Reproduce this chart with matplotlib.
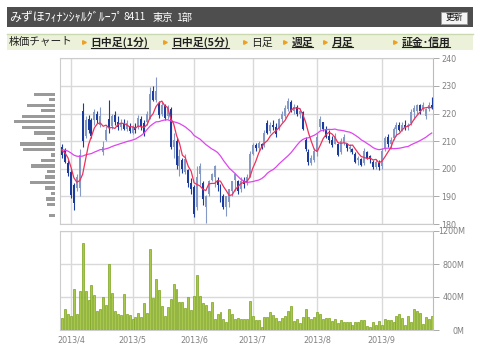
import numpy as np
import pandas as pd
import matplotlib
matplotlib.use('Agg')
import matplotlib.pyplot as plt
from matplotlib.patches import Rectangle

plt.rcParams['font.family'] = ['Noto Sans CJK JP', 'DejaVu Sans']

# ---------------- data ----------------
title_parts = ['みずほﾌｨﾅﾝｼｬﾙｸﾞﾙｰﾌﾟ', '8411', '東京', '1部']
button_text = '更新'
menu_label = '株価チャート'
menu_items = ['日中足(1分)', '日中足(5分)', '日足', '週足', '月足', '証金･信用']
menu_links = [True, True, False, True, True, True]

holidays = ['2013-04-29', '2013-05-03', '2013-05-06', '2013-07-15', '2013-09-16', '2013-09-23']
start_date, end_date = '2013-03-27', '2013-09-27'

opens = [208, 206.8, 202, 199, 194, 193, 193, 221, 212, 218, 217.5, 217.5, 220, 216, 206, 210.5,
         218, 215.5, 219.5, 217, 215, 216.5, 214.5, 215.5, 213, 215, 215, 218, 216.5, 217, 218.5,
         228, 225, 223.5, 220, 223, 219, 221.5, 208, 210, 201, 203, 199, 199.5, 195, 193.5, 186,
         198, 195, 186, 191, 196, 197, 196, 194, 190, 186, 188, 192, 196, 195.5, 192.5, 195.5,
         195, 197, 205.5, 208.5, 207.5, 209, 208.5, 216.5, 213.5, 216, 215, 214.5, 218, 219,
         221.5, 224, 221, 222.5, 220, 220.5, 210.5, 206, 202, 203, 206, 215, 217, 214.5, 212,
         210.5, 209, 209, 206, 209.5, 209, 207, 207, 205.5, 203, 203.5, 202, 206, 204.5, 202.5,
         200.5, 202, 201, 207, 211.5, 209, 211, 214.5, 216, 214, 216, 215, 216.5, 220.5, 221,
         223, 221.5, 219, 221.5, 223]
highs = [209, 207.5, 203, 200, 195, 198, 207, 223.7, 219, 219.5, 218.5, 221.5, 221, 222.5, 210,
         215.5, 225, 220, 221, 219, 218, 218, 217.5, 216.5, 216, 216.5, 219.5, 219, 217.5, 221,
         229.7, 230, 233.3, 224.5, 224, 223.5, 223, 222.5, 213, 211, 207, 204, 205.5, 200, 196.5,
         194, 201, 202, 195.5, 190.5, 196, 198.5, 201.5, 197, 194.5, 191, 190, 192.5, 195.5,
         198.5, 196, 197, 197, 198, 206.5, 209.5, 209.5, 210, 209.5, 214, 217.5, 217, 217.5,
         216.5, 218.5, 221, 223, 225.5, 225, 223.5, 223, 222, 221, 211.5, 207, 205, 207.5, 213,
         219, 217, 215.5, 214, 212, 213, 209.5, 211, 212.5, 209.5, 209, 207.5, 206, 204.5, 204,
         207.5, 206.5, 205, 203, 203.5, 203, 207.5, 212, 212.5, 211.5, 215, 217, 217, 217, 217.5,
         216.5, 221.5, 223, 223.5, 223.5, 224, 222, 224, 226]
lows = [204, 202, 197.5, 189.5, 185, 192, 190, 208, 211, 213, 211, 216, 216.5, 215, 205, 210,
        213, 214.5, 216, 214, 214, 214, 213.5, 213, 212.5, 213, 214.5, 214, 212, 216, 218, 224.5,
        224, 218.5, 219, 217.5, 218, 207, 204, 200, 197.5, 198.5, 198, 193.5, 191, 182.6, 185,
        194, 187, 180.5, 190, 195.5, 193.5, 192, 188, 185.5, 183, 186, 190, 192, 191, 191.5,
        193, 194, 197, 205, 206.5, 206.5, 207, 208, 212.5, 213, 214, 211.5, 214, 217, 218.5,
        221, 220.5, 220, 219, 218.5, 214, 206.5, 201.5, 201.5, 202.5, 204.5, 214, 213.5, 211,
        209.5, 208, 209, 204.5, 205.5, 208.5, 206.5, 206, 205.5, 202, 201.5, 201, 201.5, 203.5,
        202, 200, 200, 199.5, 200, 206.5, 208, 207, 210.5, 212, 213.5, 213.5, 214, 214, 216, 218,
        220, 220, 221, 218, 221, 221.5]
closes = [205, 202.5, 198.3, 190.5, 187.5, 197, 205, 210, 217.5, 214, 212, 220.5, 217.5, 219,
          208, 214, 215, 219, 217, 215, 216.5, 214.5, 216.5, 213.5, 215, 214, 218.5, 215, 212.5,
          220, 227, 225, 228, 219.5, 223, 218.5, 222, 208, 210.5, 201.5, 204.5, 200, 203.5,
          195, 192.5, 183.5, 197, 201, 189, 190, 195.5, 198, 201, 194, 189, 186, 190, 192.5,
          195.5, 198, 192, 195.5, 194.5, 197, 205.5, 208.5, 207.5, 209.5, 208, 213, 213, 216,
          215, 212.5, 218, 220, 222, 224.5, 221, 222.5, 220, 221, 214.5, 207, 202.5, 204, 206.5,
          211.5, 218, 214.5, 211.5, 210.5, 208.5, 212, 205, 210, 211.5, 207.5, 208, 206, 202.5,
          204, 201.5, 206.5, 204, 203.5, 200.5, 202.5, 200.5, 206.5, 211, 209, 210.5, 214.5, 216,
          214, 216, 215, 216, 220.5, 222, 223, 221, 223, 221.5, 223, 222]
volumes = [141, 253, 200, 169, 494, 200, 478, 1057, 470, 362, 543, 430, 229, 249, 402, 301, 796,
           446, 229, 193, 185, 434, 189, 181, 137, 157, 201, 157, 322, 201, 985, 386, 615, 486,
           289, 169, 273, 378, 563, 502, 334, 334, 261, 394, 241, 410, 671, 418, 330, 301, 229,
           334, 137, 193, 221, 133, 97, 249, 197, 133, 149,
           137, 137, 137, 346, 169, 121, 121, 40, 161, 161, 217, 181, 149, 108, 145, 169, 233,
           289, 113, 129, 80, 153, 257, 153, 137, 153, 221, 193, 129, 145, 145, 108, 129, 80, 121,
           97, 97, 97, 56, 97, 97, 121, 121, 48, 32, 97, 56, 108, 56, 129, 117, 121, 97, 169, 189,
           145, 60, 165, 97, 249, 229, 201, 72, 153, 129, 169]
# average level of the moving averages where the chart begins
ma_start_level = 207

profile_prices = [227, 225, 223, 221, 219, 217, 215, 213, 211, 209, 207, 205, 203, 201, 199,
                  197, 195, 193, 191, 189, 187, 185, 183]
profile_values = [22, 6, 28, 14, 34, 42, 34, 22, 8, 36, 32, 4, 14, 24, 8, 10, 25, 10, 4, 9, 8, 0, 6]

price_ticks = [180, 190, 200, 210, 220, 230, 240]
volume_ticks = [0, 400, 800, 1200]
volume_tick_labels = ['0M', '400M', '800M', '1200M']

# ---------------- derived ----------------
dates = pd.bdate_range(start_date, end_date)
dates = dates[~dates.isin(pd.to_datetime(holidays))]
n = len(dates)
idx = np.arange(n)
o = np.array(opens, float); h = np.array(highs, float)
l = np.array(lows, float); c = np.array(closes, float)
v = np.array(volumes, float)


def moving_average(values, window, seed):
    s = pd.Series([seed] * (window - 1) + list(values))
    return s.rolling(window).mean().to_numpy()[window - 1:]


ma_short = moving_average(c, 5, ma_start_level)
ma_long = moving_average(c, 25, ma_start_level)

month_pos, month_lab = [], []
for i in range(1, n):
    if dates[i].month != dates[i - 1].month:
        month_pos.append(i)
        month_lab.append(f'{dates[i].year}/{dates[i].month}')

# ---------------- figure ----------------
W, H = 480, 357
fig = plt.figure(figsize=(W / 100, H / 100), dpi=100)
fig.patch.set_facecolor('white')


def frac(x0, y0, x1, y1):
    return [x0 / W, 1 - y1 / H, (x1 - x0) / W, (y1 - y0) / H]


bg = fig.add_axes([0, 0, 1, 1])
bg.set_xlim(0, W); bg.set_ylim(H, 0); bg.axis('off')

# header
bg.add_patch(Rectangle((7, 7), 466, 20, facecolor='#4e4e4e', edgecolor='none'))
title_x = [9, 123, 153, 176.5]
title_fs = [8.6, 7.2, 7.4, 7.4]
for tx, part, fs in zip(title_x, title_parts, title_fs):
    bg.text(tx, 17.5, part, color='white', fontsize=fs, va='center', ha='left')
bg.add_patch(Rectangle((441, 11.5), 26, 12, facecolor='#f5f5f5', edgecolor='#9a9a9a', lw=0.6))
bg.text(454, 17.7, button_text, color='#111', fontsize=6.3, va='center', ha='center')

# menu bar
bg.add_patch(Rectangle((7, 33.5), 466, 16.5, facecolor='#ebf2d9', edgecolor='none'))
bg.plot([7, 473], [34, 34], color='#cbd9b0', lw=1)
bg.text(9, 42.5, menu_label, color='#222', fontsize=7.7, va='center', ha='left')
arrow_x = [84, 165, 245, 285, 325, 395]
texts = []
for ax_, item, link in zip(arrow_x, menu_items, menu_links):
    bg.plot([ax_], [42], marker='>', ms=2.6, color='#f0a020', mec='#f0a020')
    t = bg.text(ax_ + 6.5, 42.5, item, color='#222', fontsize=7.8, va='center', ha='left',
                fontweight='bold' if link else 'normal')
    texts.append((t, link))

# ---------------- price panel ----------------
grid_c = '#d9d9d9'
axp = fig.add_axes(frac(60, 58.3, 433, 224))
axp.set_xlim(-0.72, n - 0.55)
axp.set_ylim(180, 240)
dark, light = '#1b3c9c', '#8499c6'
cols = np.where(c >= o, light, dark)
axp.vlines(idx, l, h, colors=cols, lw=0.8, zorder=3)
body_b = np.minimum(o, c)
body_h = np.maximum(np.abs(c - o), 0.35)
axp.bar(idx, body_h, bottom=body_b, width=0.68, color=cols, zorder=4, lw=0)
axp.plot(idx, ma_long, color='#de45f0', lw=0.9, zorder=5)
axp.plot(idx, ma_short, color='#f0305a', lw=0.9, zorder=6)

axp.set_xticks(month_pos)
axp.set_xticklabels([])
axp.set_yticks(price_ticks)
axp.yaxis.tick_right()
axp.tick_params(axis='y', length=4, width=0.7, color='#aaaaaa', labelcolor='#808080',
                labelsize=5.8, pad=2)
axp.tick_params(axis='x', length=0)
axp.grid(True, color=grid_c, lw=1)
axp.set_axisbelow(True)
for s in axp.spines.values():
    s.set_color('#cccccc'); s.set_linewidth(0.8)
axp.spines['right'].set_color('#bbbbbb')
for lab in axp.get_yticklabels():
    lab.set_family('DejaVu Sans')

# volume-by-price profile (left)
axh = fig.add_axes(frac(10, 58.3, 55.5, 224))
axh.set_ylim(180, 240)
axh.set_xlim(45.5, 0)
axh.barh(profile_prices, profile_values, height=1.2, color='#9a9a9a', lw=0)
axh.axis('off')

# ---------------- volume panel ----------------
axv = fig.add_axes(frac(60, 231, 433, 330))
axv.set_xlim(-0.72, n - 0.55)
axv.set_ylim(0, 1200)
axv.bar(idx, v, width=0.68, color='#a8c84c', edgecolor='#7aa31c', lw=0.5, zorder=3)
axv.set_xticks(month_pos)
axv.set_xticklabels(month_lab)
axv.set_yticks(volume_ticks)
axv.set_yticklabels(volume_tick_labels)
axv.yaxis.tick_right()
axv.tick_params(axis='y', length=4, width=0.7, color='#aaaaaa', labelcolor='#808080',
                labelsize=5.8, pad=2)
axv.tick_params(axis='x', length=0, labelcolor='#808080', labelsize=5.8, pad=4)
for lab in axv.get_yticklabels():
    lab.set_family('DejaVu Sans'); lab.set_horizontalalignment('right')
    lab.set_x(1.063)
for lab in axv.get_xticklabels():
    lab.set_family('DejaVu Sans')
axv.grid(True, color=grid_c, lw=1)
axv.set_axisbelow(True)
for s in axv.spines.values():
    s.set_color('#cccccc'); s.set_linewidth(0.8)
axv.spines['right'].set_color('#bbbbbb')

# underline links
fig.canvas.draw()
rend = fig.canvas.get_renderer()
inv = bg.transData.inverted()
for t, link in texts:
    if not link:
        continue
    bb = t.get_window_extent(rend)
    (x0, y0), (x1, y1) = inv.transform([[bb.x0, bb.y0], [bb.x1, bb.y1]])
    yb = max(y0, y1) - 0.5
    bg.plot([x0, x1], [yb, yb], color='#222', lw=0.8)

fig.savefig('out.png', dpi=100, facecolor='white')
